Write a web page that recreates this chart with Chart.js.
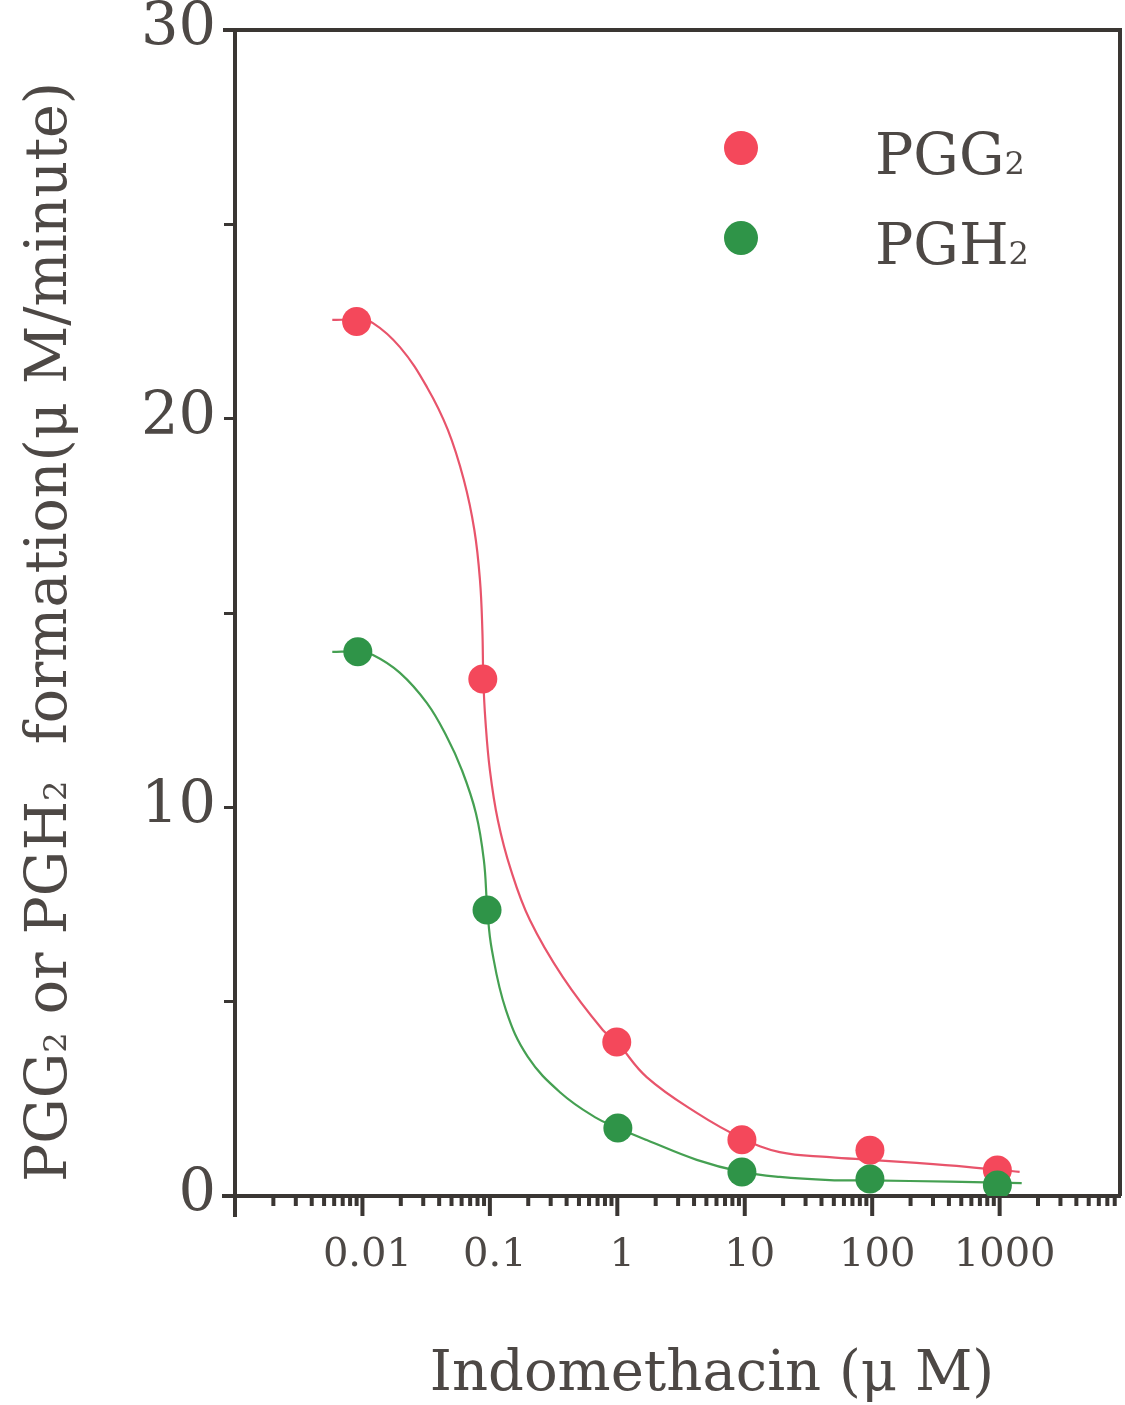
<!DOCTYPE html>
<html>
<head>
<meta charset="utf-8">
<script src="https://cdn.jsdelivr.net/npm/chart.js@4"></script>
<style>
  html, body { margin: 0; padding: 0; background: #fff; }
  #wrap { width: 1125px; height: 1405px; }
</style>
</head>
<body>
<div id="wrap"><canvas id="chart" width="1125" height="1405"></canvas></div>
<script>
// measured points: indomethacin (uM) vs formation (uM/minute)
const pggX = [0.009, 0.088, 0.99, 9.5, 96, 960];
const pggY = [22.5, 13.3, 3.96, 1.45, 1.18, 0.67];
const pghX = [0.0092, 0.095, 1.01, 9.5, 96, 960];
const pghY = [14.0, 7.36, 1.75, 0.62, 0.44, 0.28];

// fitted curves
const pggCurveX = [0.0058, 0.0091, 0.0121, 0.0197, 0.0321, 0.0468, 0.0625, 0.0756, 0.0836, 0.0873, 0.0889, 0.0922, 0.1, 0.1155, 0.1462, 0.206, 0.374, 0.769, 0.99, 1.7, 4.2, 9.47, 18.8, 46.4, 95.5, 223, 551, 1435];
const pggCurveY = [22.54, 22.54, 22.46, 21.84, 20.81, 19.71, 18.42, 17.13, 15.85, 14.56, 13.27, 12.25, 10.96, 9.67, 8.39, 7.1, 5.63, 4.27, 3.96, 3.06, 2.14, 1.49, 1.13, 1.0, 0.93, 0.85, 0.75, 0.62];
const pghCurveX = [0.0058, 0.0092, 0.0121, 0.0197, 0.0321, 0.046, 0.0603, 0.0777, 0.0897, 0.0956, 0.1037, 0.1335, 0.1986, 0.3606, 0.666, 1.01, 1.7, 4.2, 9.47, 18.8, 46.4, 95.5, 405, 1490];
const pghCurveY = [14.0, 14.0, 13.92, 13.46, 12.68, 11.81, 10.96, 9.85, 8.64, 7.36, 6.33, 4.79, 3.58, 2.65, 2.03, 1.75, 1.44, 0.93, 0.62, 0.49, 0.41, 0.4, 0.37, 0.33];

const xTickValues = [0.01, 0.1, 1, 10, 100, 1000];
const xTickLabels = ['0.01', '0.1', '1', '10', '100', '1000'];
const seriesNames = ['PGG', 'PGH'];

const red = '#f4485b';
const green = '#2f9448';
const redLine = '#e8546b';
const greenLine = '#45a052';
const axisColor = '#3a3633';
const textColor = '#4d4845';
const serif = '"DejaVu Serif", "Liberation Serif", serif';

const toXY = (xs, ys) => xs.map((x, i) => ({ x: x, y: ys[i] }));

// text runs where some parts are subscripts
function runsWidth(ctx, runs, size, subSize) {
  let w = 0;
  runs.forEach(r => {
    ctx.font = (r.sub ? subSize : size) + 'px ' + serif;
    w += ctx.measureText(r.t).width;
  });
  return w;
}
function drawRuns(ctx, runs, x, y, size, subSize) {
  runs.forEach(r => {
    ctx.font = (r.sub ? subSize : size) + 'px ' + serif;
    ctx.fillText(r.t, x, y);
    x += ctx.measureText(r.t).width;
  });
}

const decor = {
  id: 'decor',
  afterDraw(chart) {
    const { ctx, chartArea: a, scales: { x } } = chart;
    ctx.save();
    ctx.strokeStyle = axisColor;
    ctx.fillStyle = axisColor;

    // frame top and right
    ctx.lineWidth = 4;
    ctx.beginPath();
    ctx.moveTo(a.left - 12, a.top);
    ctx.lineTo(a.right, a.top);
    ctx.lineTo(a.right, a.bottom);
    ctx.stroke();

    // axis stubs past the origin
    ctx.beginPath();
    ctx.moveTo(a.left - 13, a.bottom);
    ctx.lineTo(a.left, a.bottom);
    ctx.moveTo(a.left, a.bottom);
    ctx.lineTo(a.left, a.bottom + 21);
    ctx.stroke();

    // log ticks on x
    for (let e = -3; e <= 4; e++) {
      for (let m = 1; m <= 9; m++) {
        const v = m * Math.pow(10, e);
        if (v <= x.min * 1.01 || v > x.max) continue;
        const px = x.getPixelForValue(v);
        ctx.fillRect(px - 2, a.bottom, 4, m === 1 ? 20 : 10);
      }
    }

    // legend
    ctx.fillStyle = red;
    ctx.beginPath(); ctx.arc(741, 148, 17, 0, Math.PI * 2); ctx.fill();
    ctx.fillStyle = green;
    ctx.beginPath(); ctx.arc(741, 238, 17, 0, Math.PI * 2); ctx.fill();
    ctx.fillStyle = textColor;
    ctx.textBaseline = 'alphabetic';
    ctx.textAlign = 'left';
    drawRuns(ctx, [{ t: seriesNames[0] }, { t: '2', sub: true }], 875, 174, 57, 32);
    drawRuns(ctx, [{ t: seriesNames[1] }, { t: '2', sub: true }], 875, 264, 57, 32);

    // y title
    const yRuns = [{ t: 'PGG' }, { t: '2', sub: true }, { t: ' or PGH' }, { t: '2', sub: true }, { t: '  formation(μ M/minute)' }];
    const w = runsWidth(ctx, yRuns, 57, 32);
    ctx.translate(66, 632);
    ctx.rotate(-Math.PI / 2);
    drawRuns(ctx, yRuns, -w / 2, 0, 57, 32);
    ctx.setTransform(1, 0, 0, 1, 0, 0);

    // x title
    ctx.font = '56px ' + serif;
    ctx.textAlign = 'center';
    ctx.fillText('Indomethacin (μ M)', 712, 1390);
    ctx.restore();
  }
};

new Chart(document.getElementById('chart'), {
  type: 'scatter',
  data: {
    datasets: [
      { label: 'PGH2', data: toXY(pghX, pghY), backgroundColor: green, borderWidth: 0, pointRadius: 14.5 },
      { label: 'PGG2', data: toXY(pggX, pggY), backgroundColor: red, borderWidth: 0, pointRadius: 14.5 },
      { label: 'PGH2 fit', data: toXY(pghCurveX, pghCurveY), showLine: true, borderColor: greenLine, borderWidth: 2.2, pointRadius: 0, tension: 0.4 },
      { label: 'PGG2 fit', data: toXY(pggCurveX, pggCurveY), showLine: true, borderColor: redLine, borderWidth: 2.2, pointRadius: 0, tension: 0.4 }
    ]
  },
  options: {
    responsive: false,
    animation: false,
    layout: { autoPadding: false, padding: { top: 30, right: 5, left: 0, bottom: 0 } },
    plugins: { legend: { display: false }, tooltip: { enabled: false } },
    scales: {
      x: {
        type: 'logarithmic',
        min: 0.001,
        max: 8800,
        afterBuildTicks: s => { s.ticks = xTickValues.map(v => ({ value: v })); },
        afterFit: s => { s.height = 209; s.paddingLeft = 0; s.paddingRight = 0; },
        grid: { display: false },
        border: { display: true, color: axisColor, width: 4 },
        ticks: {
          autoSkip: false,
          maxRotation: 0,
          padding: 28,
          labelOffset: 5,
          color: textColor,
          font: { family: serif, size: 40 },
          callback: (v, i) => xTickLabels[i]
        }
      },
      y: {
        min: 0,
        max: 30,
        afterFit: s => { s.width = 235; s.paddingTop = 0; s.paddingBottom = 0; },
        grid: { drawOnChartArea: false, drawTicks: true, tickLength: 11, tickWidth: 3, tickColor: axisColor },
        border: { display: true, color: axisColor, width: 4 },
        ticks: {
          stepSize: 5,
          padding: 8,
          color: textColor,
          font: { family: serif, size: 59 },
          callback: v => (v % 10 === 0 ? String(v) : '')
        }
      }
    }
  },
  plugins: [decor]
});
</script>
</body>
</html>
